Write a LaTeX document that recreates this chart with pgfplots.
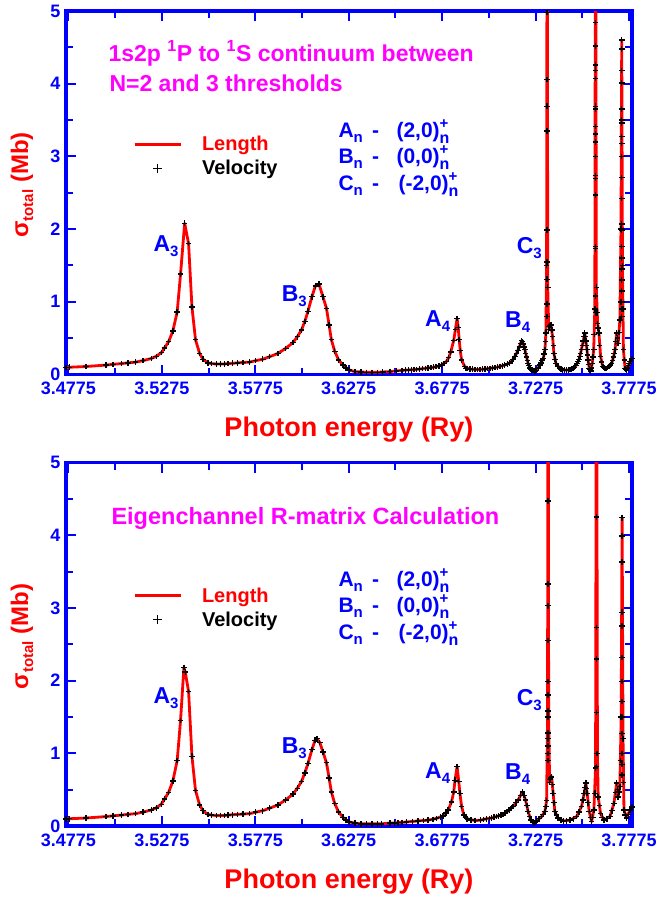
\documentclass[border=0pt]{standalone}
\usepackage{fontspec}
\setmainfont{Liberation Sans}
\usepackage{pgfplots}
\pgfplotsset{compat=1.18}
\definecolor{axblue}{RGB}{0,0,255}
\definecolor{ttlmag}{RGB}{255,0,255}
\definecolor{lenred}{RGB}{255,0,0}

\newcommand{\fs}[1]{\fontsize{#1}{#1}\selectfont\bfseries}
\newcommand{\low}[1]{\raisebox{-5pt}{\fontsize{15}{15}\selectfont\bfseries #1}}
\newcommand{\supsub}[2]{\rlap{\raisebox{9pt}{\fontsize{15}{15}\selectfont\bfseries #1}}\raisebox{-6pt}{\fontsize{16}{16}\selectfont\bfseries #2}}

% top panel, length form
\pgfplotstableread{
x y
3.4762 0.095
3.4781 0.10
3.4870 0.11
3.4977 0.13
3.5013 0.14
3.5058 0.15
3.5093 0.16
3.5134 0.17
3.5173 0.19
3.5218 0.22
3.5245 0.25
3.5272 0.30
3.5289 0.365
3.5311 0.45
3.5334 0.60
3.5357 0.86
3.5375 1.38
3.5397 2.08
3.5418 1.80
3.5436 0.93
3.5455 0.48
3.5477 0.29
3.5495 0.21
3.5521 0.16
3.5540 0.15
3.5566 0.145
3.5590 0.145
3.5610 0.145
3.5630 0.15
3.5654 0.155
3.5680 0.16
3.5710 0.165
3.5744 0.17
3.5777 0.19
3.5815 0.21
3.5852 0.245
3.5896 0.29
3.5938 0.36
3.5977 0.44
3.6000 0.52
3.6022 0.61
3.6040 0.73
3.6057 0.87
3.6078 1.07
3.6097 1.22
3.6116 1.245
3.6137 1.07
3.6156 0.91
3.6170 0.68
3.6182 0.48
3.6200 0.32
3.6221 0.20
3.6244 0.13
3.6260 0.09
3.6280 0.06
3.6308 0.04
3.6340 0.035
3.6370 0.03
3.6400 0.03
3.6430 0.03
3.6457 0.035
3.6495 0.04
3.6530 0.05
3.6560 0.055
3.6580 0.06
3.6610 0.065
3.6638 0.07
3.6670 0.08
3.6700 0.09
3.6730 0.10
3.6755 0.115
3.6771 0.13
3.6798 0.18
3.6810 0.23
3.6821 0.31
3.6837 0.47
3.6846 0.62
3.6855 0.77
3.6861 0.65
3.6866 0.48
3.6872 0.33
3.6879 0.20
3.6896 0.11
3.6910 0.085
3.6923 0.075
3.6950 0.07
3.6977 0.07
3.7005 0.075
3.7031 0.085
3.7058 0.095
3.7084 0.11
3.7110 0.13
3.7137 0.16
3.7155 0.21
3.7173 0.29
3.7188 0.38
3.7200 0.465
3.7210 0.42
3.7218 0.34
3.7227 0.24
3.7235 0.15
3.7245 0.09
3.7254 0.06
3.7268 0.05
3.7280 0.055
3.7298 0.13
3.7310 0.19
3.7316 0.22
3.7325 0.34
3.7330 0.57
3.7334 1.5
3.7337 8
3.7340 1.2
3.7345 0.66
3.7357 0.68
3.7366 0.52
3.7373 0.29
3.7384 0.15
3.7405 0.085
3.7420 0.065
3.7440 0.06
3.7460 0.07
3.7476 0.085
3.7490 0.12
3.7503 0.18
3.7512 0.25
3.7520 0.34
3.7530 0.46
3.7538 0.57
3.7544 0.46
3.7550 0.34
3.7556 0.20
3.7562 0.085
3.7570 0.05
3.7578 0.15
3.7586 0.34
3.7592 0.9
3.7596 8
3.7600 1.2
3.7607 0.70
3.7614 0.57
3.7623 0.25
3.7634 0.11
3.7645 0.09
3.7655 0.085
3.7668 0.11
3.7682 0.15
3.7692 0.24
3.7700 0.34
3.7709 0.57
3.7717 0.43
3.7726 0.75
3.7732 2.0
3.7736 4.6
3.7740 1.5
3.7745 0.34
3.7754 0.085
3.7762 0.06
3.7772 0.12
3.7780 0.18
3.7791 0.22
}\toplen

% top panel, extra velocity points (narrow lines and dense part)
\pgfplotstableread{
x y
3.7337 4.98
3.7337 4.06
3.7337 3.69
3.7337 3.35
3.7337 1.99
3.7337 1.55
3.7337 1.31
3.7337 0.97
3.7337 0.80
3.7596 4.84
3.7596 4.52
3.7596 4.26
3.7596 4.18
3.7596 4.07
3.7596 3.69
3.7596 3.65
3.7596 3.41
3.7596 3.31
3.7596 3.20
3.7596 3.00
3.7596 2.74
3.7596 2.70
3.7596 2.47
3.7596 1.76
3.7596 1.73
3.7596 1.08
3.7596 0.85
3.7736 4.60
3.7736 4.48
3.7736 4.18
3.7736 4.01
3.7736 3.65
3.7736 3.50
3.7736 3.46
3.7736 3.27
3.7736 3.18
3.7736 3.00
3.7736 2.71
3.7736 2.42
3.7736 2.07
3.7736 1.99
3.7736 1.76
3.7736 1.60
3.7736 1.45
3.7736 1.30
3.7736 1.15
3.7736 1.00
3.7736 0.90
3.7736 0.80
3.6595 0.062
3.6625 0.068
3.6655 0.075
3.6685 0.085
3.6715 0.095
3.6742 0.108
3.6762 0.12
3.6785 0.15
3.6903 0.08
3.6937 0.072
3.6963 0.07
3.6990 0.072
3.7018 0.08
3.7045 0.09
3.7071 0.10
3.7097 0.12
3.7124 0.145
3.7146 0.18
3.7164 0.25
3.7180 0.33
3.7195 0.43
3.7205 0.45
3.7214 0.38
3.7222 0.29
3.7231 0.19
3.7240 0.12
3.7250 0.07
3.7261 0.055
3.7274 0.05
3.7289 0.09
3.7304 0.16
3.7313 0.20
3.7320 0.28
3.7328 0.45
3.7343 0.62
3.7350 0.67
3.7362 0.61
3.7370 0.40
3.7378 0.21
3.7394 0.11
3.7412 0.075
3.7430 0.062
3.7450 0.065
3.7468 0.078
3.7483 0.10
3.7497 0.15
3.7508 0.21
3.7516 0.29
3.7525 0.40
3.7534 0.52
3.7541 0.52
3.7547 0.40
3.7553 0.27
3.7559 0.14
3.7566 0.065
3.7574 0.09
3.7582 0.24
3.7589 0.55
3.7603 0.85
3.7610 0.64
3.7618 0.40
3.7628 0.17
3.7640 0.10
3.7650 0.085
3.7661 0.095
3.7675 0.13
3.7687 0.19
3.7696 0.29
3.7704 0.45
3.7713 0.50
3.7721 0.58
3.7729 1.0
3.7743 0.9
3.7750 0.2
3.7758 0.07
3.7767 0.09
3.7776 0.15
}\topvel

% bottom panel, length form
\pgfplotstableread{
x y
3.4762 0.095
3.4781 0.10
3.4870 0.11
3.4977 0.13
3.5013 0.14
3.5058 0.15
3.5093 0.16
3.5134 0.17
3.5173 0.19
3.5218 0.22
3.5245 0.25
3.5272 0.30
3.5289 0.37
3.5311 0.46
3.5334 0.62
3.5357 0.90
3.5375 1.45
3.5393 2.18
3.5400 2.12
3.5418 1.85
3.5436 0.96
3.5455 0.49
3.5477 0.29
3.5495 0.21
3.5521 0.16
3.5540 0.15
3.5566 0.145
3.5590 0.145
3.5610 0.145
3.5630 0.15
3.5654 0.155
3.5680 0.16
3.5710 0.165
3.5744 0.17
3.5777 0.19
3.5815 0.21
3.5852 0.245
3.5896 0.29
3.5938 0.36
3.5977 0.44
3.6000 0.52
3.6022 0.61
3.6040 0.73
3.6057 0.86
3.6078 1.05
3.6095 1.18
3.6105 1.20
3.6120 1.15
3.6137 1.02
3.6156 0.87
3.6170 0.66
3.6182 0.47
3.6200 0.31
3.6221 0.19
3.6244 0.12
3.6260 0.08
3.6280 0.055
3.6308 0.04
3.6340 0.03
3.6370 0.03
3.6400 0.03
3.6430 0.03
3.6450 0.03
3.6495 0.04
3.6539 0.045
3.6584 0.055
3.6646 0.07
3.6700 0.08
3.6745 0.105
3.6780 0.14
3.6807 0.22
3.6825 0.33
3.6837 0.47
3.6844 0.63
3.6855 0.82
3.6864 0.61
3.6870 0.45
3.6879 0.27
3.6891 0.15
3.6909 0.10
3.6950 0.075
3.6980 0.08
3.7013 0.10
3.7040 0.11
3.7066 0.13
3.7090 0.15
3.7111 0.175
3.7135 0.22
3.7155 0.27
3.7182 0.36
3.7205 0.47
3.7221 0.36
3.7235 0.20
3.7250 0.08
3.7265 0.045
3.7280 0.07
3.7307 0.13
3.7325 0.20
3.7334 0.35
3.7339 1.5
3.7342 8
3.7345 1.5
3.7350 0.6
3.7355 0.66
3.7361 0.68
3.7369 0.45
3.7378 0.20
3.7396 0.11
3.7423 0.07
3.7459 0.08
3.7495 0.13
3.7521 0.27
3.7535 0.45
3.7544 0.59
3.7551 0.45
3.7562 0.20
3.7575 0.06
3.7587 0.22
3.7596 0.8
3.7601 8
3.7606 1.0
3.7610 0.40
3.7623 0.17
3.7641 0.08
3.7673 0.13
3.7694 0.31
3.7709 0.59
3.7717 0.40
3.7726 0.54
3.7733 1.5
3.7738 4.24
3.7743 1.2
3.7748 0.22
3.7762 0.11
3.7780 0.22
3.7791 0.26
}\botlen

\pgfplotstableread{
x y
3.7342 4.47
3.7342 3.33
3.7342 3.03
3.7342 2.55
3.7342 1.99
3.7342 1.80
3.7342 1.58
3.7342 1.28
3.7342 1.20
3.7342 1.10
3.7342 1.00
3.7342 0.90
3.7601 4.25
3.7601 2.73
3.7601 2.30
3.7601 1.56
3.7601 1.00
3.7601 0.82
3.7738 3.99
3.7738 3.63
3.7738 2.94
3.7738 2.75
3.7738 2.32
3.7738 1.99
3.7738 1.71
3.7738 1.50
3.7738 1.27
3.7738 1.00
3.7738 0.85
3.7738 0.70
3.6520 0.043
3.6560 0.05
3.6615 0.062
3.6675 0.075
3.6725 0.09
3.6765 0.12
3.6795 0.18
3.6900 0.12
3.6930 0.08
3.6995 0.09
3.7028 0.105
3.7053 0.12
3.7078 0.14
3.7100 0.16
3.7122 0.20
3.7145 0.245
3.7170 0.32
3.7194 0.42
3.7213 0.42
3.7228 0.28
3.7243 0.13
3.7258 0.06
3.7272 0.05
3.7294 0.10
3.7316 0.16
3.7330 0.27
3.7352 0.64
3.7358 0.67
3.7365 0.57
3.7373 0.32
3.7386 0.15
3.7410 0.085
3.7440 0.072
3.7477 0.10
3.7508 0.19
3.7528 0.36
3.7540 0.53
3.7548 0.52
3.7556 0.32
3.7568 0.12
3.7581 0.12
3.7592 0.45
3.7616 0.28
3.7632 0.12
3.7657 0.10
3.7684 0.21
3.7702 0.46
3.7713 0.50
3.7721 0.47
3.7730 0.9
3.7745 0.6
3.7755 0.15
3.7771 0.16
}\botvel

\pgfplotsset{
  panel/.style={
    scale only axis, width=566pt, height=363.5pt,
    anchor=south west,
    xmin=3.4762, xmax=3.7791, ymin=0, ymax=5,
    xtick={3.4775,3.5275,3.5775,3.6275,3.6775,3.7275,3.7775},
    xticklabels={3.4775,3.5275,3.5775,3.6275,3.6775,3.7275,3.7775},
    minor x tick num=1,
    ytick={0,1,2,3,4,5}, yticklabels={0,1,2,3,4,5},
    minor y tick num=1,
    tick align=inside,
    major tick length=10pt, minor tick length=7pt,
    axis line style={draw=axblue, line width=3.6pt},
    tick style={draw=axblue, line width=2pt},
    tick label style={font=\fs{18}, text=axblue},
    xticklabel style={yshift=-4pt},
    yticklabel style={xshift=-2pt},
    legend style={draw=none, fill=none, at={(0.1184,0.6616)}, anchor=north west,
      font=\fs{20}, row sep=4pt, column sep=18pt, inner sep=0pt},
    legend cell align=left,
  },
  lenplot/.style={draw=lenred, line width=2.8pt, line join=round,
    legend image code/.code={\draw[##1] (0pt,0pt) -- (46pt,0pt);}},
  velplot/.style={only marks, mark=+, mark size=2.8pt, black, line width=1.4pt,
    legend image code/.code={\draw[##1, mark size=4.5pt] plot coordinates {(23pt,0pt)};}},
}

\begin{document}
\begin{tikzpicture}[x=1pt,y=1pt]
\begin{axis}[panel, at={(66pt,-374.5pt)}]
\addplot[lenplot] table {\toplen};
\addlegendentry{\textcolor{lenred}{Length}}
\addplot[velplot] table {\toplen};
\addlegendentry{Velocity}
\addplot[velplot, forget plot] table {\topvel};
\end{axis}

\begin{axis}[panel, at={(66pt,-826pt)}]
\addplot[lenplot] table {\botlen};
\addlegendentry{\textcolor{lenred}{Length}}
\addplot[velplot] table {\botlen};
\addlegendentry{Velocity}
\addplot[velplot, forget plot] table {\botvel};
\end{axis}

% titles
\node[anchor=base west, text=ttlmag, font=\fs{23}] at (105,-61) {1s2p \textsuperscript{1}P to \textsuperscript{1}S continuum between};
\node[anchor=base west, text=ttlmag, font=\fs{23}] at (106,-91) {N=2 and 3 thresholds};
\node[anchor=base west, text=ttlmag, font=\fs{23.5}] at (108,-524) {Eigenchannel R-matrix Calculation};

% axis labels
\foreach \dy in {0,451.5} {
  \node[text=lenred, font=\fs{27}] at (349,-430-\dy) {Photon energy (Ry)};
  \node[rotate=90, text=lenred, font=\fs{24}] at (22,-185-\dy) {σ\low{total} (Mb)};
}

% state labels
\foreach \dy/\ey in {0/0,449/452} {
  \begin{scope}[yshift=-\dy pt, text=axblue, font=\fs{21}]
    \node[anchor=base west] at (335,-137) {A\low{n}};
    \node[anchor=base] at (375.5,-137) {-};
    \node[anchor=base west] at (393,-137) {(2,0)\supsub{+}{n}};
    \node[anchor=base west] at (335,-163.3) {B\low{n}};
    \node[anchor=base] at (375.5,-163.3) {-};
    \node[anchor=base west] at (393,-163.3) {(0,0)\supsub{+}{n}};
    \node[anchor=base west] at (335,-190) {C\low{n}};
    \node[anchor=base] at (375.5,-190) {-};
    \node[anchor=base west] at (395,-190) {(-2,0)\supsub{+}{n}};
  \end{scope}
  \begin{scope}[yshift=-\ey pt, text=axblue, font=\fs{23}]
    \node[anchor=base west] at (150,-251.7) {A\low{3}};
    \node[anchor=base west] at (278.3,-301.7) {B\low{3}};
    \node[anchor=base west] at (421.7,-326.7) {A\low{4}};
    \node[anchor=base west] at (501.7,-327) {B\low{4}};
    \node[anchor=base west] at (513.3,-253) {C\low{3}};
  \end{scope}
}

\pgfresetboundingbox
\path (0,0) rectangle (659,-900);
\end{tikzpicture}
\end{document}
